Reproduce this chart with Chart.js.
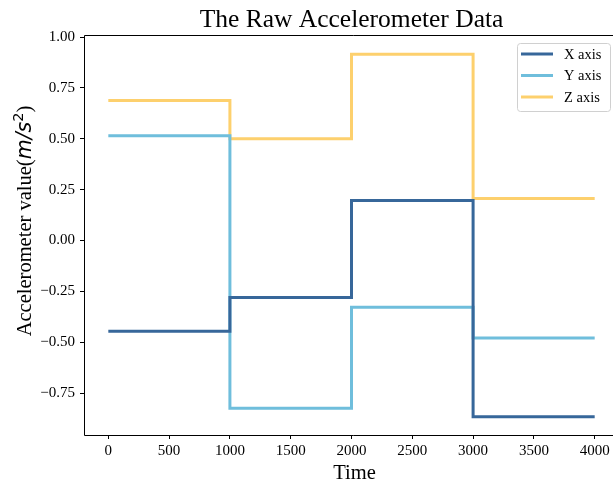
<!DOCTYPE html>
<html>
<head>
<meta charset="utf-8">
<script src="https://cdn.jsdelivr.net/npm/chart.js@4.4.1/dist/chart.umd.min.js"></script>
<style>
html,body{margin:0;padding:0;background:#fff;overflow:hidden;width:613px;height:487px;}
#wrap{width:622px;height:487px;}
</style>
</head>
<body>
<div id="wrap"><canvas id="c" width="622" height="487"></canvas></div>
<script>
// ---- data ----
const times = [0, 1000, 2000, 3000, 4000];
const xAxisLevels = [-0.446, -0.280, 0.196, -0.866, -0.866];
const yAxisLevels = [0.515, -0.825, -0.328, -0.479, -0.479];
const zAxisLevels = [0.688, 0.500, 0.915, 0.206, 0.206];
const seriesNames = ['X axis', 'Y axis', 'Z axis'];
const xTickValues = [0, 500, 1000, 1500, 2000, 2500, 3000, 3500, 4000];
const yTickValues = [-0.75, -0.50, -0.25, 0.00, 0.25, 0.50, 0.75, 1.00];
const titleText = 'The Raw Accelerometer Data';
const xTitle = 'Time';

const colors = ['#37679a', '#6fbedc', '#fdd06d'];
const serif = '"Liberation Serif", "Times New Roman", serif';

function pts(levels){ return times.map((t,i)=>({x:t, y:levels[i]})); }

const datasets = [xAxisLevels, yAxisLevels, zAxisLevels].map((lv,i)=>({
  label: seriesNames[i],
  data: pts(lv),
  borderColor: colors[i],
  backgroundColor: colors[i],
  borderWidth: 3,
  pointRadius: 0,
  stepped: 'before',
  fill: false
}));

function fmt(v){
  const s = Math.abs(v).toFixed(2);
  return (v < -1e-9 ? '\u2212' : '') + s;
}

const decor = {
  id: 'decor',
  afterDraw(chart){
    const ctx = chart.ctx;
    const a = chart.chartArea;
    ctx.save();
    // frame (left, top, bottom)
    ctx.strokeStyle = '#000';
    ctx.lineWidth = 1;
    ctx.beginPath();
    ctx.moveTo(a.right+5, a.top+0.5);
    ctx.lineTo(a.left+0.5, a.top+0.5);
    ctx.lineTo(a.left+0.5, a.bottom+0.5);
    ctx.lineTo(a.right+5, a.bottom+0.5);
    ctx.stroke();
    // title
    ctx.fillStyle = '#000';
    ctx.font = '25.5px ' + serif;
    ctx.textAlign = 'center';
    ctx.textBaseline = 'alphabetic';
    ctx.fillText(titleText, (a.left + a.right)/2, 27);
    // x title
    ctx.font = '20.5px ' + serif;
    ctx.fillText(xTitle, (a.left + a.right)/2 + 3, 479);
    // y title with mathtext part
    const parts = [
      {t:'Accelerometer value(', f:'20.5px ' + serif, dy:0},
      {t:'m/s', f:'italic 20.5px "DejaVu Sans"', dy:0},
      {t:'2', f:'14.5px "DejaVu Sans"', dy:-8},
      {t:')', f:'20.5px ' + serif, dy:0}
    ];
    let total = 0;
    parts.forEach(p=>{ ctx.font = p.f; p.w = ctx.measureText(p.t).width; total += p.w; });
    ctx.translate(31, 221);
    ctx.rotate(-Math.PI/2);
    ctx.textAlign = 'left';
    let x = -total/2;
    parts.forEach(p=>{ ctx.font = p.f; ctx.fillText(p.t, x, p.dy); x += p.w; });
    ctx.restore();
    // legend
    ctx.save();
    const lx = 517, ly = 43, lw = 93, lh = 68;
    ctx.beginPath();
    if (ctx.roundRect) ctx.roundRect(lx+0.5, ly+0.5, lw, lh, 3); else ctx.rect(lx+0.5, ly+0.5, lw, lh);
    ctx.fillStyle = 'rgba(255,255,255,0.8)';
    ctx.fill();
    ctx.strokeStyle = '#d0d0d0';
    ctx.lineWidth = 1;
    ctx.stroke();
    ctx.font = '14.5px ' + serif;
    ctx.textAlign = 'left';
    ctx.textBaseline = 'middle';
    chart.data.datasets.forEach((ds,i)=>{
      const yy = 54 + i*21.5;
      ctx.strokeStyle = ds.borderColor;
      ctx.lineWidth = 3;
      ctx.beginPath();
      ctx.moveTo(521, yy);
      ctx.lineTo(553, yy);
      ctx.stroke();
      ctx.fillStyle = '#000';
      ctx.fillText(ds.label, 564, yy+1);
    });
    ctx.restore();
  }
};

new Chart(document.getElementById('c'), {
  type: 'line',
  data: { datasets },
  plugins: [decor],
  options: {
    responsive: false,
    animation: false,
    layout: { padding: { left: 0, right: 3, top: 35, bottom: 0 } },
    plugins: { legend: { display: false }, title: { display: false }, tooltip: { enabled: false } },
    scales: {
      x: {
        type: 'linear',
        min: -200, max: 4200,
        afterBuildTicks: s => { s.ticks = xTickValues.map(v=>({value:v})); },
        afterFit: s => { s.height = 52; },
        grid: { drawOnChartArea: false, drawTicks: true, tickLength: 4, color: '#000' },
        border: { display: false },
        ticks: { color: '#000', font: { family: serif, size: 15 }, padding: 3, maxRotation: 0, autoSkip: false, callback: v => String(v) }
      },
      y: {
        type: 'linear',
        min: -0.956, max: 1.01,
        afterBuildTicks: s => { s.ticks = yTickValues.map(v=>({value:v})); },
        afterFit: s => { s.width = 84; },
        grid: { drawOnChartArea: false, drawTicks: true, tickLength: 4, color: '#000' },
        border: { display: false },
        ticks: { color: '#000', font: { family: serif, size: 15 }, padding: 5, autoSkip: false, callback: v => fmt(v) }
      }
    }
  }
});
</script>
</body>
</html>
